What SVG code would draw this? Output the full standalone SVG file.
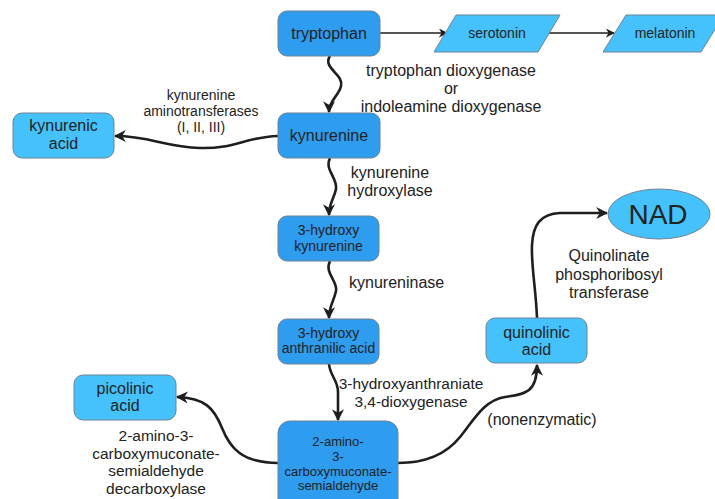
<svg xmlns="http://www.w3.org/2000/svg" width="715" height="499" viewBox="0 0 715 499">
<style>
.dark{fill:#2e9cef;stroke:#6f8295;stroke-width:1}
.light{fill:#45c2fc;stroke:#6f8295;stroke-width:1}
text{font-family:"Liberation Sans",Arial,sans-serif;fill:#222;text-anchor:middle}
.n16{font-size:16px}
.n14{font-size:14px}
.n13{font-size:13px}
.lbl{font-size:16px}
.thick{fill:none;stroke:#1e1e1e;stroke-width:2.6;marker-end:url(#big)}
.thin{fill:none;stroke:#1e1e1e;stroke-width:1.5;marker-end:url(#small)}
</style>
<defs>
<marker id="big" markerUnits="userSpaceOnUse" viewBox="0 0 10 10" refX="9" refY="5" markerWidth="12" markerHeight="12" orient="auto">
<path d="M0,0 L10,5 L0,10 L3,5 z" fill="#1e1e1e"/>
</marker>
<marker id="small" markerUnits="userSpaceOnUse" viewBox="0 0 10 10" refX="9" refY="5" markerWidth="9" markerHeight="9" orient="auto">
<path d="M0,0 L10,5 L0,10 L3,5 z" fill="#1e1e1e"/>
</marker>
</defs>

<g id="connectors">
<path class="thin" d="M380,33 L447,33"/>
<path class="thin" d="M549,33 L614,33"/>
<path class="thick" d="M330,56 C322,68 344,74 341,86 C339,96 329,100 329,112"/>
<path class="thick" d="M278,136 C245,137 235,149 200,148 C165,147 150,136 115,136"/>
<path class="thick" d="M330,158 C324,170 338,178 336,189 C334,199 329,203 329,215"/>
<path class="thick" d="M330,261 C324,273 338,281 336,291 C334,301 329,306 329,318"/>
<path class="thick" d="M329,364 C330,376 338,380 338,392 L338,420"/>
<path class="thick" d="M278,463 C242,463 230,448 222,428 C214,408 205,398 177,397"/>
<path class="thick" d="M398,463 C430,463 448,452 460,437 C475,418 485,400 505,397 C525,394 537,393 537,365"/>
<path class="thick" d="M537,318 C536,290 531,265 532,245 C533,225 540,214 560,213 L607,213"/>
</g>

<g id="labels">
<text class="lbl" x="451" y="76">tryptophan dioxygenase</text>
<text class="lbl" x="451" y="94">or</text>
<text class="lbl" x="451" y="112">indoleamine dioxygenase</text>
<text class="n14" x="201" y="100">kynurenine</text>
<text class="n14" x="201" y="116">aminotransferases</text>
<text class="n14" x="201" y="132">(I, II, III)</text>
<text class="lbl" x="390" y="178">kynurenine</text>
<text class="lbl" x="390" y="196">hydroxylase</text>
<text class="lbl" x="349" y="288" style="text-anchor:start">kynureninase</text>
<text class="lbl" x="411" y="389" style="font-size:15.4px">3-hydroxyanthraniate</text>
<text class="lbl" x="411" y="407" style="font-size:15.4px">3,4-dioxygenase</text>
<text class="lbl" x="156" y="441" style="font-size:15.5px">2-amino-3-</text>
<text class="lbl" x="156" y="459" style="font-size:15.5px">carboxymuconate-</text>
<text class="lbl" x="156" y="476" style="font-size:15.5px">semialdehyde</text>
<text class="lbl" x="156" y="494" style="font-size:15.5px">decarboxylase</text>
<text class="lbl" x="542" y="425">(nonenzymatic)</text>
<text class="lbl" x="609" y="261">Quinolinate</text>
<text class="lbl" x="609" y="280">phosphoribosyl</text>
<text class="lbl" x="609" y="298">transferase</text>
</g>

<g id="tryptophan">
<rect class="dark" x="278" y="11" width="102" height="45" rx="9"/>
<text class="n16" x="329" y="39">tryptophan</text>
</g>
<g id="serotonin">
<polygon class="light" points="456,15 560,15 538,52 434,52"/>
<text class="n14" x="497" y="38">serotonin</text>
</g>
<g id="melatonin">
<polygon class="light" points="626,15 724,15 701,52 603,52"/>
<text class="n14" x="665" y="38">melatonin</text>
</g>
<g id="kynurenine">
<rect class="dark" x="278" y="113" width="102" height="45" rx="9"/>
<text class="n16" x="329" y="141">kynurenine</text>
</g>
<g id="kynurenic-acid">
<rect class="light" x="13" y="113" width="101" height="45" rx="9"/>
<text class="n16" x="63.5" y="131">kynurenic</text>
<text class="n16" x="63.5" y="149">acid</text>
</g>
<g id="hydroxykynurenine">
<rect class="dark" x="278" y="216" width="101" height="45" rx="9"/>
<text class="n14" x="328.5" y="235">3-hydroxy</text>
<text class="n14" x="328.5" y="251">kynurenine</text>
</g>
<g id="hydroxyanthranilic-acid">
<rect class="dark" x="278" y="319" width="101" height="45" rx="9"/>
<text class="n14" x="328.5" y="338">3-hydroxy</text>
<text class="n14" x="328.5" y="353">anthranilic acid</text>
</g>
<g id="acms">
<rect class="dark" x="278" y="421" width="120" height="90" rx="12"/>
<text class="n13" x="338" y="446">2-amino-</text>
<text class="n13" x="338" y="461">3-</text>
<text class="n13" x="338" y="475.5">carboxymuconate-</text>
<text class="n13" x="338" y="490">semialdehyde</text>
</g>
<g id="picolinic-acid">
<rect class="light" x="74" y="375" width="102" height="45" rx="9"/>
<text class="n16" x="125" y="394">picolinic</text>
<text class="n16" x="125" y="411">acid</text>
</g>
<g id="quinolinic-acid">
<rect class="light" x="486" y="318" width="101" height="45" rx="9"/>
<text class="n16" x="536.5" y="338">quinolinic</text>
<text class="n16" x="536.5" y="355">acid</text>
</g>
<g id="nad">
<ellipse class="light" cx="659" cy="214" rx="51" ry="25"/>
<text x="658" y="224" style="font-size:28px">NAD</text>
</g>
</svg>
